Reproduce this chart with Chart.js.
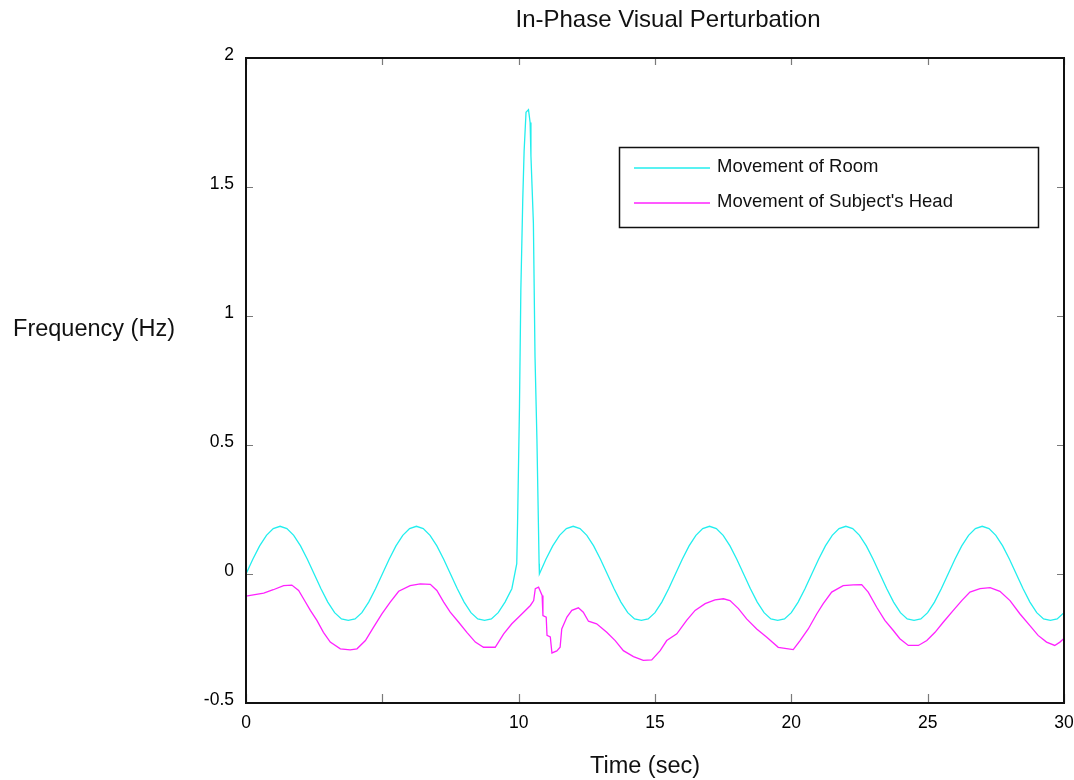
<!DOCTYPE html>
<html>
<head>
<meta charset="utf-8">
<title>In-Phase Visual Perturbation</title>
<script src="https://cdn.jsdelivr.net/npm/chart.js@4.4.1/dist/chart.umd.min.js"></script>
<style>
  html, body { margin: 0; padding: 0; background: #fff; }
  #wrap { width: 1074px; height: 780px; }
</style>
</head>
<body>
<div id="wrap"><canvas id="grafico" width="1074" height="780"></canvas></div>
<script>
// Axis ticks
const xTicks = [0, 5, 10, 15, 20, 25, 30];
const xTickLabels = ['0', '', '10', '15', '20', '25', '30'];
const yTicks = [-0.5, 0, 0.5, 1, 1.5, 2];

// Movement of the room: [time (s), frequency (Hz)]
const roomData = [
  [0, 0], [0.25, 0.057], [0.5, 0.109], [0.75, 0.150], [1.0, 0.176], [1.25, 0.185], [1.5, 0.176], [1.75, 0.150],
  [2.0, 0.109], [2.25, 0.057], [2.5, 0], [2.75, -0.057], [3.0, -0.109], [3.25, -0.150], [3.5, -0.174], [3.75, -0.180],
  [4.0, -0.174], [4.25, -0.150], [4.5, -0.109], [4.75, -0.057],
  [5.0, 0], [5.25, 0.057], [5.5, 0.109], [5.75, 0.150], [6.0, 0.176], [6.25, 0.185], [6.5, 0.176], [6.75, 0.150],
  [7.0, 0.109], [7.25, 0.057], [7.5, 0], [7.75, -0.057], [8.0, -0.109], [8.25, -0.150], [8.5, -0.174], [8.75, -0.180],
  [9.0, -0.174], [9.25, -0.150], [9.5, -0.109], [9.75, -0.057],
  // the perturbation spike
  [9.93, 0.04], [9.96, 0.20], [10.03, 0.65], [10.08, 1.10], [10.15, 1.45], [10.20, 1.64], [10.27, 1.79], [10.36, 1.80],
  [10.42, 1.75], [10.45, 1.62], [10.54, 1.36], [10.60, 0.84], [10.67, 0.52], [10.75, 0.04], [10.76, 0],
  [11.0, 0.057], [11.25, 0.109], [11.5, 0.150], [11.75, 0.176], [12.0, 0.185], [12.25, 0.176], [12.5, 0.150],
  [12.75, 0.109], [13.0, 0.057], [13.25, 0], [13.5, -0.057], [13.75, -0.109], [14.0, -0.150], [14.25, -0.174],
  [14.5, -0.180], [14.75, -0.174], [15.0, -0.150], [15.25, -0.109], [15.5, -0.057], [15.75, 0],
  [16.0, 0.057], [16.25, 0.109], [16.5, 0.150], [16.75, 0.176], [17.0, 0.185], [17.25, 0.176], [17.5, 0.150],
  [17.75, 0.109], [18.0, 0.057], [18.25, 0], [18.5, -0.057], [18.75, -0.109], [19.0, -0.150], [19.25, -0.174],
  [19.5, -0.180], [19.75, -0.174], [20.0, -0.150], [20.25, -0.109], [20.5, -0.057], [20.75, 0],
  [21.0, 0.057], [21.25, 0.109], [21.5, 0.150], [21.75, 0.176], [22.0, 0.185], [22.25, 0.176], [22.5, 0.150],
  [22.75, 0.109], [23.0, 0.057], [23.25, 0], [23.5, -0.057], [23.75, -0.109], [24.0, -0.150], [24.25, -0.174],
  [24.5, -0.180], [24.75, -0.174], [25.0, -0.150], [25.25, -0.109], [25.5, -0.057], [25.75, 0],
  [26.0, 0.057], [26.25, 0.109], [26.5, 0.150], [26.75, 0.176], [27.0, 0.185], [27.25, 0.176], [27.5, 0.150],
  [27.75, 0.109], [28.0, 0.057], [28.25, 0], [28.5, -0.057], [28.75, -0.109], [29.0, -0.150], [29.25, -0.174],
  [29.5, -0.180], [29.75, -0.174], [30.0, -0.150]
];

// Movement of the subject's head: [time (s), frequency (Hz)]
const headData = [
  [0, -0.086], [0.27, -0.081], [0.65, -0.074], [1.0, -0.061], [1.38, -0.045], [1.68, -0.043], [1.93, -0.064],
  [2.11, -0.096], [2.36, -0.141], [2.60, -0.180], [2.84, -0.226], [3.09, -0.264], [3.46, -0.290], [3.82, -0.294],
  [4.07, -0.290], [4.38, -0.258], [4.68, -0.206], [4.99, -0.154], [5.29, -0.109], [5.60, -0.067], [6.02, -0.045],
  [6.39, -0.038], [6.76, -0.040], [7.0, -0.064], [7.25, -0.109], [7.49, -0.148], [7.80, -0.187], [8.10, -0.226],
  [8.41, -0.264], [8.71, -0.284], [9.14, -0.284], [9.45, -0.232], [9.75, -0.193], [10.06, -0.161], [10.43, -0.122],
  [10.55, -0.103], [10.61, -0.057], [10.73, -0.051], [10.86, -0.083], [10.89, -0.161], [11.01, -0.167],
  [11.04, -0.238], [11.16, -0.244], [11.22, -0.306], [11.40, -0.298], [11.52, -0.284], [11.58, -0.213],
  [11.77, -0.167], [11.95, -0.141], [12.19, -0.131], [12.37, -0.148], [12.56, -0.183], [12.86, -0.193],
  [13.23, -0.226], [13.54, -0.258], [13.84, -0.297], [14.21, -0.320], [14.57, -0.335], [14.88, -0.333],
  [15.19, -0.297], [15.43, -0.258], [15.80, -0.232], [16.16, -0.180], [16.47, -0.141], [16.84, -0.115],
  [17.20, -0.100], [17.51, -0.096], [17.75, -0.103], [18.06, -0.134], [18.36, -0.174], [18.73, -0.213],
  [19.10, -0.245], [19.52, -0.284], [20.07, -0.293], [20.32, -0.258], [20.62, -0.213], [20.93, -0.155],
  [21.17, -0.115], [21.48, -0.070], [21.90, -0.045], [22.27, -0.042], [22.58, -0.041], [22.82, -0.070],
  [23.13, -0.129], [23.43, -0.180], [23.74, -0.219], [23.98, -0.251], [24.29, -0.277], [24.66, -0.277],
  [24.97, -0.258], [25.27, -0.226], [25.57, -0.187], [25.94, -0.141], [26.25, -0.103], [26.55, -0.070],
  [26.92, -0.057], [27.29, -0.053], [27.65, -0.067], [28.02, -0.103], [28.38, -0.154], [28.75, -0.200],
  [29.05, -0.238], [29.36, -0.264], [29.66, -0.277], [29.85, -0.264], [30.0, -0.250]
];

const FONT = '"Liberation Sans", Arial, Helvetica, sans-serif';
Chart.defaults.font.family = FONT;
Chart.defaults.color = '#000';

// frame, inward ticks, titles and the boxed legend
const marcoPlugin = {
  id: 'marco',
  afterDatasetsDraw(chart) {
    const ctx = chart.ctx;
    const a = chart.chartArea;
    const sx = chart.scales.x, sy = chart.scales.y;
    ctx.save();

    // inward tick marks on all four sides
    ctx.strokeStyle = '#7a7a7a';
    ctx.lineWidth = 1.2;
    ctx.beginPath();
    xTicks.forEach(v => {
      const px = Math.round(sx.getPixelForValue(v)) + 0.5;
      ctx.moveTo(px, a.bottom); ctx.lineTo(px, a.bottom - 9);
      ctx.moveTo(px, a.top); ctx.lineTo(px, a.top + 7);
    });
    yTicks.forEach(v => {
      const py = Math.round(sy.getPixelForValue(v)) + 0.5;
      ctx.moveTo(a.left, py); ctx.lineTo(a.left + 7, py);
      ctx.moveTo(a.right, py); ctx.lineTo(a.right - 7, py);
    });
    ctx.stroke();

    // frame
    ctx.strokeStyle = '#111';
    ctx.lineWidth = 2;
    ctx.strokeRect(a.left, a.top, a.right - a.left, a.bottom - a.top);

    // legend
    ctx.fillStyle = '#fff';
    ctx.fillRect(619, 147, 419, 80);
    ctx.lineWidth = 1.5;
    ctx.strokeStyle = '#111';
    ctx.strokeRect(619.5, 147.5, 419, 80);
    ctx.font = '18.5px ' + FONT;
    ctx.textAlign = 'left';
    ctx.textBaseline = 'middle';
    chart.data.datasets.forEach((ds, i) => {
      const ly = 168 + i * 35;
      ctx.strokeStyle = ds.borderColor;
      ctx.lineWidth = 1.4;
      ctx.beginPath();
      ctx.moveTo(634, ly); ctx.lineTo(710, ly);
      ctx.stroke();
      ctx.fillStyle = '#111';
      ctx.fillText(ds.label, 717, ly - 1);
    });

    // titles
    ctx.fillStyle = '#111';
    ctx.textAlign = 'center';
    ctx.font = '24px ' + FONT;
    ctx.fillText('In-Phase Visual Perturbation', 668, 20);
    ctx.font = '23.5px ' + FONT;
    ctx.fillText('Time (sec)', 645, 767);
    ctx.fillText('Frequency (Hz)', 94, 330);
    ctx.restore();
  }
};

new Chart(document.getElementById('grafico').getContext('2d'), {
  type: 'line',
  data: {
    datasets: [
      {
        label: 'Movement of Room',
        data: roomData,
        borderColor: '#22eeee',
        borderWidth: 1.3,
        pointRadius: 0,
        tension: 0,
        fill: false
      },
      {
        label: "Movement of Subject's Head",
        data: headData,
        borderColor: '#ff22ff',
        borderWidth: 1.3,
        pointRadius: 0,
        tension: 0,
        fill: false
      }
    ]
  },
  options: {
    responsive: false,
    animation: false,
    events: [],
    layout: { padding: { top: 58, right: 10, left: 0, bottom: 0 } },
    plugins: {
      legend: { display: false },
      title: { display: false },
      tooltip: { enabled: false }
    },
    scales: {
      x: {
        type: 'linear',
        min: 0,
        max: 30,
        afterBuildTicks: s => { s.ticks = xTicks.map(v => ({ value: v })); },
        afterFit: s => { s.height = 77; s.paddingLeft = 0; s.paddingRight = 0; },
        grid: { display: false, drawTicks: false },
        border: { display: false },
        ticks: {
          padding: 10,
          maxRotation: 0,
          autoSkip: false,
          font: { size: 17.5 },
          callback: (v) => xTickLabels[xTicks.indexOf(v)]
        }
      },
      y: {
        type: 'linear',
        min: -0.5,
        max: 2,
        afterBuildTicks: s => { s.ticks = yTicks.map(v => ({ value: v })); },
        afterFit: s => { s.width = 246; },
        grid: { display: false, drawTicks: false },
        border: { display: false },
        ticks: {
          padding: 12,
          labelOffset: -3,
          autoSkip: false,
          font: { size: 17.5 },
          callback: (v) => String(v)
        }
      }
    }
  },
  plugins: [marcoPlugin]
});
</script>
</body>
</html>
